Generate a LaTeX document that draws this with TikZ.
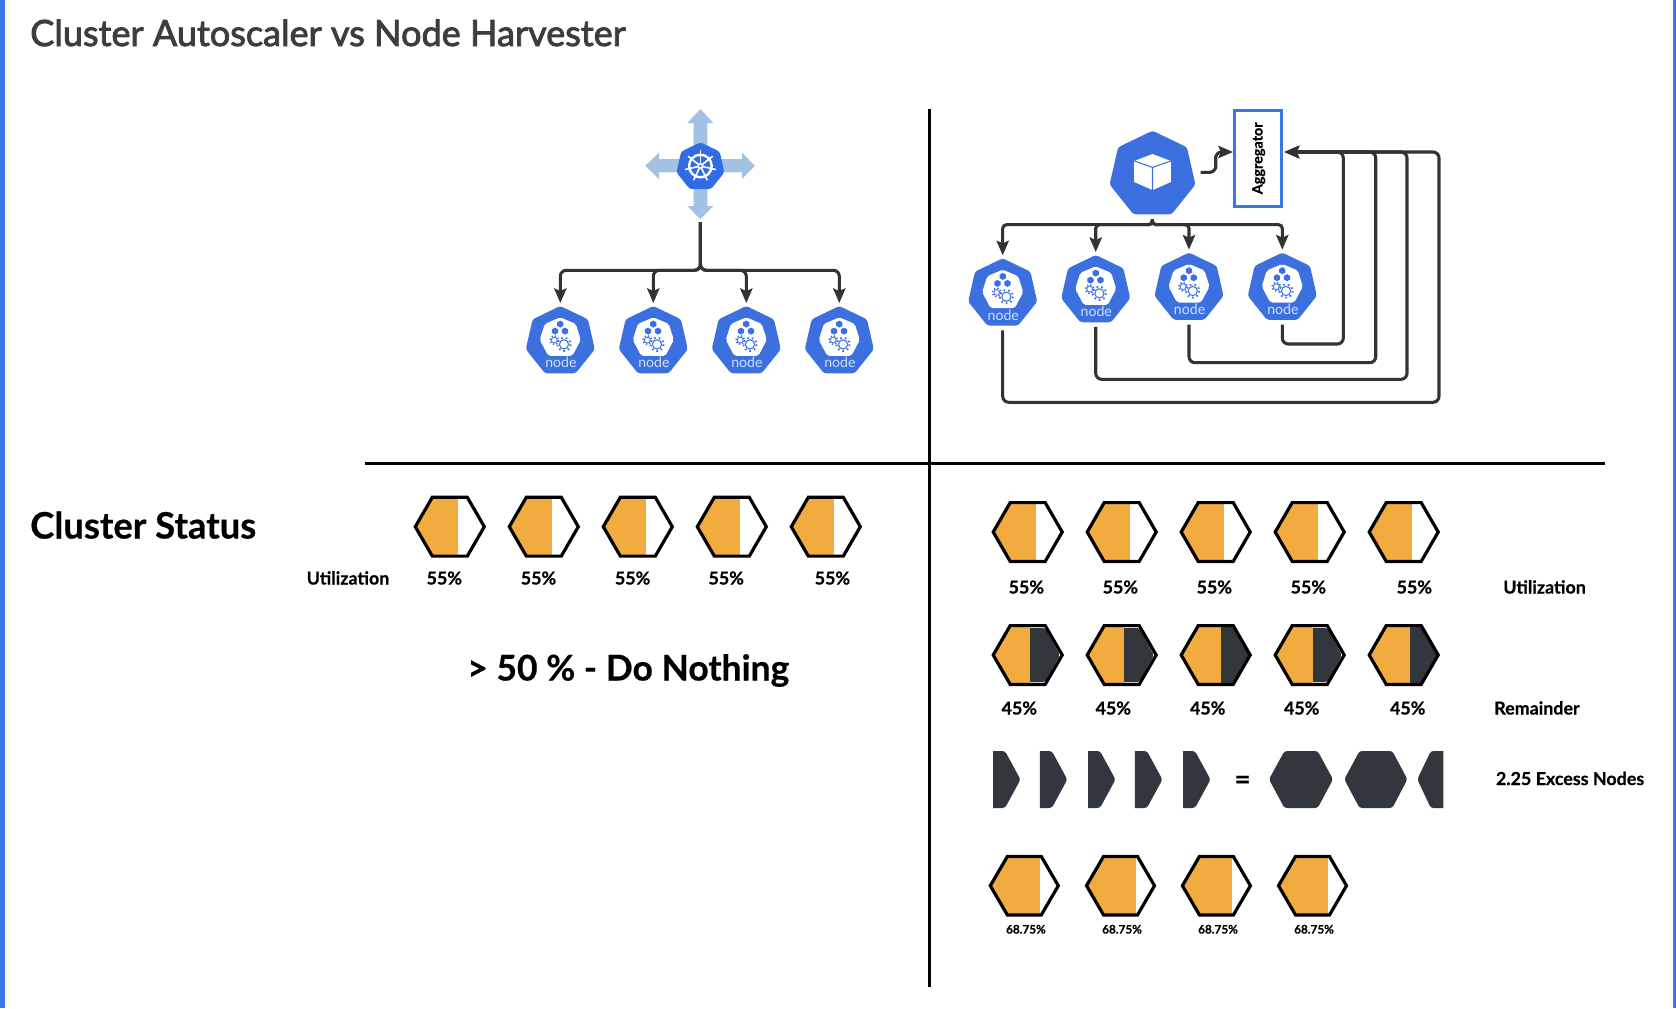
\documentclass[tikz,border=0pt]{standalone}
\usepackage{fontspec}
\setmainfont{Lato}[BoldFeatures={FakeBold=0.5}]
\newfontfamily\titlefont[FakeBold=2.4]{Lato}
\usetikzlibrary{arrows.meta,shapes.geometric,calc}
\definecolor{barblue}{HTML}{3B78E7}
\definecolor{kblue}{HTML}{3D70DF}
\definecolor{helmblue}{HTML}{326CE5}
\definecolor{lightarrow}{HTML}{A3C1E3}
\definecolor{nodetxt}{HTML}{CFE0FA}
\definecolor{linec}{HTML}{333333}
\definecolor{orangefill}{HTML}{F2AB3F}
\definecolor{darkfill}{HTML}{32373D}
\definecolor{titlec}{HTML}{3D3D3D}
\tikzset{
  hepta/.style={regular polygon,regular polygon sides=7,inner sep=0pt,outer sep=0pt,fill=#1,rounded corners=2pt},
  conn/.style={draw=linec,line width=2.3pt,rounded corners=4.5pt},
  arr/.style={-{Stealth[length=11pt,width=9.2pt,inset=2pt]}},
  gapin/.style={shorten >=2.2pt},
  gapout/.style={shorten <=3.5pt},
  divider/.style={draw=black,line width=2.4pt},
  hexline/.style={draw=black,line width=2.4pt,line join=miter},
  lab/.style={anchor=base,inner sep=0pt,font=\fontsize{13.4}{15}\bfseries\selectfont},
  smalllab/.style={anchor=base,inner sep=0pt,font=\fontsize{8.8}{10}\bfseries\selectfont},
  biglab/.style={anchor=base west,inner sep=0pt,font=\fontsize{27.3}{30}\bfseries\selectfont},
}
% K8s worker node: name, x, y
\newcommand{\kubenode}[3]{%
  \node[hepta=kblue,minimum size=53.1pt] (#1) at (#2,#3) {};
  \begin{scope}[shift={(#2,#3)}]
    \fill[white,rounded corners=1.5pt] (0,-24)--(15.5,-17.5)--(20.5,-1.5)--(12,14.5)--(-12,14.5)--(-20.5,-1.5)--(-15.5,-17.5)--cycle;
    \foreach \hx/\hy in {0/-17.3,-5.3/-10.3,4.7/-10.3}{
      \fill[kblue] ($(\hx,\hy)+(0,-3.5)$)--++(3.1,1.75)--++(0,3.5)--++(-3.1,1.75)--++(-3.1,-1.75)--++(0,-3.5)--cycle;
    }
    \draw[kblue,line width=.6pt] (-6,-1.3) circle[radius=2.9];
    \draw[kblue,line width=1.2pt,dash pattern=on 1pt off 1.6pt] (-6,-1.3) circle[radius=4.4];
    \draw[kblue,line width=.8pt] (3.7,3) circle[radius=4.6];
    \draw[kblue,line width=1.4pt,dash pattern=on 1.2pt off 2.3pt] (3.7,3) circle[radius=6.6];
    \node[text=nodetxt,inner sep=0pt,anchor=base,font=\fontsize{10.6}{12}\selectfont] (#1txt) at (0.6,26.5) {node};
  \end{scope}
}
% hexagon with a fill up to a split: x, y, split offset, half width, half flat, half height
\newcommand{\usagehex}[6]{%
  \begin{scope}[shift={(#1,#2)}]
    \begin{scope}
      \clip (-#4,0)--(-#5,-#6)--(#5,-#6)--(#4,0)--(#5,#6)--(-#5,#6)--cycle;
      \fill[orangefill] (-40,-35) rectangle (#3,35);
    \end{scope}
    \path[hexline] (-#4,0)--(-#5,-#6)--(#5,-#6)--(#4,0)--(#5,#6)--(-#5,#6)--cycle;
  \end{scope}
}
% same with the remainder in dark: x, y, split, inset
\newcommand{\remhex}[4]{%
  \begin{scope}[shift={(#1,#2)}]
    \begin{scope}
      \clip (-34.5,0)--(-17.5,-29.4)--(17.5,-29.4)--(34.5,0)--(17.5,29.4)--(-17.5,29.4)--cycle;
      \fill[orangefill] (-40,-35) rectangle (#3,35);
      \clip (#3,-35) rectangle (40,35);
      \fill[darkfill,rounded corners=1.5pt] (-34.5+#4,0)--(-17.5,-29.4+#4)--(17.5,-29.4+#4)--(34.5-#4,0)--(17.5,29.4-#4)--(-17.5,29.4-#4)--cycle;
    \end{scope}
    \path[hexline] (-34.5,0)--(-17.5,-29.4)--(17.5,-29.4)--(34.5,0)--(17.5,29.4)--(-17.5,29.4)--cycle;
  \end{scope}
}
\newcommand{\darkpiece}[1]{%
  \fill[darkfill] (#1,751) [rounded corners=2pt] -- ++(12,0) -- ++(15.5,28.5) -- ++(-15.5,28.5) [sharp corners] -- ++(-12,0) -- cycle;
}
\begin{document}
\begin{tikzpicture}[x=.75pt,y=-.75pt]
\useasboundingbox (0,0) rectangle (1676,1008);
\fill[white] (0,0) rectangle (1676,1008);
\fill[barblue] (0,0) rectangle (5,1008);
\fill[barblue] (1673,0) rectangle (1676,1008);

\node[anchor=base west,inner sep=0pt,text=titlec,font=\fontsize{27.05}{30}\titlefont] (title) at (30,46) {Cluster Autoscaler vs Node Harvester};

% dividers
\coordinate (vt) at (929.5,109);
\coordinate (vb) at (929.5,987);
\coordinate (hl) at (364.5,463.7);
\coordinate (hr) at (1605,463.7);
\draw[divider] (vt) -- (vb);
\draw[divider] (hl) -- (hr);

% left: autoscaling control plane
\fill[lightarrow] (700.4,109)--(713.4,123)--(707.3,123)--(707.3,206)--(713.4,206)--(700.4,219.3)--(687.4,206)--(693.5,206)--(693.5,123)--(687.4,123)--cycle;
\fill[lightarrow] (645.3,165.8)--(659,152.7)--(659,159.2)--(742,159.2)--(742,152.7)--(755,165.8)--(742,179)--(742,172.4)--(659,172.4)--(659,179)--cycle;
\node[hepta=helmblue,minimum size=36.9pt] (helm) at (700.4,166.9) {};
\begin{scope}[shift={(700.4,166)}]
  \draw[white,line width=1.8pt] (0,0) circle[radius=11.3];
  \draw[white,line width=1.1pt] (0,0) circle[radius=2.2];
  \foreach \a in {-90,-38.57,12.86,64.29,115.71,167.14,218.57}{
    \draw[white,line width=1.2pt] (\a:2.6) -- (\a:15.8);
  }
\end{scope}
\coordinate (lsrc) at (700.4,222.3);
\coordinate (lbus) at (700.4,270.3);
\kubenode{la}{560.3}{341.4}
\kubenode{lb}{653.3}{341.4}
\kubenode{lc}{746.3}{341.4}
\kubenode{ld}{839.3}{341.4}
\foreach \n in {la,lb,lc,ld}{
  \draw[conn,arr,gapin] (lsrc) |- (\n |- lbus) -- (\n.north);
}

% right: harvester
\node[hepta=kblue,minimum size=66pt] (ctl) at (1152.5,174.7) {};
\begin{scope}[shift={(1152.5,174.7)}]
  \fill[white] (0,-20.7)--(18.3,-13.7)--(18.3,-0)--(18.3,7.3)--(0,15.3)--(-18.3,7.3)--(-18.3,-13.7)--cycle;
  \draw[kblue,line width=.8pt] (-18.3,-13.7)--(0,-7.3)--(18.3,-13.7) (0,-7.3)--(0,15.3);
\end{scope}
\node[draw=barblue,fill=white,line width=2.25pt,minimum width=35.8pt,minimum height=72.2pt,inner sep=0pt,outer sep=0pt] (agg) at (1258,158.2) {};
\node[rotate=90,inner sep=0pt,font=\fontsize{10.8}{12}\bfseries\selectfont] (aggtxt) at (1258.6,158.3) {Aggregator};
\coordinate (aggL) at (1233,152);
\coordinate (aggR) at (1284.5,152);
\coordinate (ctlout) at (1200.7,172.3);
\coordinate (sbend) at (1215.7,162);
\draw[conn,arr] (ctlout) -| (sbend) |- (aggL);

\coordinate (rsrc) at (1152.3,219.3);
\coordinate (rbus) at (1152.3,224.7);
\kubenode{ra}{1002.7}{293.7}
\kubenode{rb}{1095.7}{290.4}
\kubenode{rc}{1189}{288}
\kubenode{rd}{1282.3}{288}
\foreach \n in {ra,rb,rc,rd}{
  \draw[conn,arr,gapin] (rsrc) [rounded corners=2.8pt] |- (\n |- rbus) [rounded corners=4.5pt] -- (\n.north);
}
\coordinate (bd) at (1343.3,344);
\coordinate (bc) at (1375.7,362.7);
\coordinate (bb) at (1407,379.3);
\coordinate (ba) at (1439,402.3);
\draw[conn,arr,gapout] (rd.south) |- (bd) -- (bd |- aggR) -- (aggR);
\draw[conn,arr,gapout] (rc.south) |- (bc) -- (bc |- aggR) -- (aggR);
\draw[conn,arr,gapout] (rb.south) |- (bb) -- (bb |- aggR) -- (aggR);
\draw[conn,arr,gapout] (ra.south) |- (ba) -- (ba |- aggR) -- (aggR);

% left status
\node[biglab] (cs) at (30,538.5) {Cluster Status};
\foreach \c in {449.8,543.8,637.8,731.8,825.8}{\usagehex{\c}{526.7}{8.3}{34.5}{17.5}{29.4}}
\node[lab] (lu) at (348,584.5) {Utilization};
\foreach \c/\m in {444.3/a,538.5/b,632.6/c,726.2/d,832.4/e}{\node[lab] (lp\m) at (\c,584.5) {55\%};}
\node[biglab,font=\fontsize{26.6}{30}\bfseries\selectfont] (nothing) at (467,680.5) {> 50 \% - Do Nothing};

% right status
\foreach \c in {1027.7,1121.7,1215.7,1309.7,1403.7}{\usagehex{\c}{532}{8.3}{34.5}{17.5}{29.4}}
\foreach \c/\m in {1026.3/a,1120.3/b,1214.3/c,1308.3/d,1414.3/e}{\node[lab] (rp\m) at (\c,593.5) {55\%};}
\node[lab,anchor=base west] (ru) at (1503,593.5) {Utilization};
\remhex{1027.7}{655}{2.3}{2.3}
\remhex{1121.7}{655}{2.3}{2.3}
\remhex{1215.7}{655}{5.3}{1}
\remhex{1309.7}{655}{3.3}{2.3}
\remhex{1403.7}{655}{6.3}{0.5}
\foreach \c/\m in {1019.3/a,1113.3/b,1207.7/c,1301.7/d,1407.7/e}{\node[lab] (rq\m) at (\c,714.5) {45\%};}
\node[lab,anchor=base west] (rr) at (1494,714.5) {Remainder};

\foreach \c in {993,1039.8,1088,1134.9,1183}{\darkpiece{\c}}
\node[lab,font=\fontsize{21}{24}\bfseries\selectfont] (eq) at (1242.5,789) {=};
\fill[darkfill,rounded corners=2pt] (1269,779.3)--(1284.4,751)--(1317.7,751)--(1333,779.3)--(1317.7,808)--(1284.4,808)--cycle;
\fill[darkfill,rounded corners=2pt] (1344.3,779.3)--(1359.5,751)--(1392.3,751)--(1407.4,779.3)--(1392.3,808)--(1359.5,808)--cycle;
\fill[darkfill] (1443.4,751) [rounded corners=2pt] -- (1430.8,751) -- (1417.3,779.3) -- (1430.8,808) [sharp corners] -- (1443.4,808) -- cycle;
\node[lab,anchor=base west] (excess) at (1495.7,785) {2.25 Excess Nodes};

\foreach \c in {1024.3,1120.5,1216.4,1312.5}{\usagehex{\c}{885.7}{15.5}{34}{17}{29.2}}
\foreach \c/\m in {1025.9/a,1122/b,1218/c,1314/d}{\node[smalllab] (rs\m) at (\c,933.5) {68.75\%};}
\end{tikzpicture}
\end{document}
